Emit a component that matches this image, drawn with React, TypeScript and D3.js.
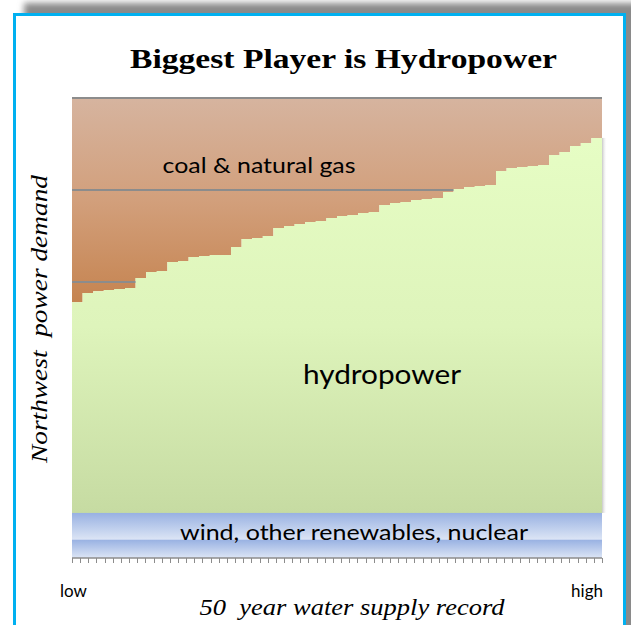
import React from 'react';
import * as d3 from 'd3';

// hydro generation per water year, sorted low -> high (aMW)
const hydro = [
  11450, 11950, 12050, 12120, 12170, 12220, 12770, 13090, 13150, 13640,
  13690, 13910, 13960, 14020, 14020, 14450, 14890, 14940, 15050, 15490,
  15590, 15700, 15810, 15870, 16030, 16140, 16190, 16300, 16350, 16740,
  16840, 16900, 17010, 17060, 17120, 17440, 17600, 17710, 17770, 17820,
  18580, 18750, 18800, 18850, 18910, 19450, 19620, 19940, 20100, 20380,
];
const nuclear = 1000;
const windOther = 1450;
const demand = 25000;
const gridValues = [5000, 10000, 15000, 20000, 25000];
const tickCount = 65;

const W = 631;
const H = 625;
const left = 72, right = 602, top = 98, bottom = 558;

const App: React.FC = () => {
  const x = d3.scaleLinear().domain([0, hydro.length]).range([left, right]);
  const y = d3.scaleLinear().domain([0, demand]).range([bottom, top]);
  const xt = d3.scaleLinear().domain([0, tickCount]).range([left, right]);

  const base = nuclear + windOther;
  const pts = hydro.map((v, i) => ({ i, v }));
  pts.push({ i: hydro.length, v: hydro[hydro.length - 1] });

  const hydroArea = d3.area<{ i: number; v: number }>()
    .x(d => x(d.i))
    .y0(y(base))
    .y1(d => y(base + d.v))
    .curve(d3.curveStepAfter);

  const coalArea = d3.area<{ i: number; v: number }>()
    .x(d => x(d.i))
    .y0(d => y(base + d.v))
    .y1(y(demand))
    .curve(d3.curveStepAfter);

  const bands = [
    { lo: nuclear, hi: base },
    { lo: 0, hi: nuclear },
  ];

  const calibri = "Lato, 'Open Sans', sans-serif";
  const serif = "'Liberation Serif', 'DejaVu Serif', serif";

  return (
    <svg width={W} height={H} style={{ position: 'absolute', left: 0, top: 0 }}>
      <defs>
        <filter id="shadow" x="-10%" y="-10%" width="120%" height="120%">
          <feGaussianBlur stdDeviation="3" />
        </filter>
        <linearGradient id="coalG" gradientUnits="userSpaceOnUse" x1="0" y1={top} x2="0" y2={305}>
          <stop offset="0" stopColor="#d6b49f" />
          <stop offset="0.5" stopColor="#d29f7b" />
          <stop offset="1" stopColor="#c5834f" />
        </linearGradient>
        <linearGradient id="hydroG" gradientUnits="userSpaceOnUse" x1="0" y1={140} x2="0" y2={y(base)}>
          <stop offset="0" stopColor="#e6fdc4" />
          <stop offset="0.5" stopColor="#def4bb" />
          <stop offset="1" stopColor="#c6dba2" />
        </linearGradient>
        <linearGradient id="blueG" x1="0" y1="0" x2="0" y2="1">
          <stop offset="0" stopColor="#98b1e2" />
          <stop offset="1" stopColor="#dce5f5" />
        </linearGradient>
        <linearGradient id="edgeG" x1="0" y1="0" x2="1" y2="0">
          <stop offset="0" stopColor="#b8b8b8" stopOpacity="0.8" />
          <stop offset="1" stopColor="#ffffff" stopOpacity="0" />
        </linearGradient>
      </defs>

      {/* frame with drop shadow */}
      <rect x={24} y={3} width={640} height={680} fill="#8a8a8a" filter="url(#shadow)" />
      <rect x={14.5} y={14.5} width={610} height={660} fill="#fff" stroke="#00b0f0" strokeWidth={3} />

      <text x={343.5} y={68} textAnchor="middle" fontFamily={serif} fontWeight="bold"
        fontSize={28} textLength={427} lengthAdjust="spacingAndGlyphs">Biggest Player is Hydropower</text>

      <path d={coalArea(pts) ?? ''} fill="url(#coalG)" />
      {gridValues.map(g => (
        <line key={g} x1={left} x2={right} y1={y(g)} y2={y(g)} stroke="#8c8c8c" strokeWidth={1.8} />
      ))}
      <rect x={right} y={y(base + hydro[hydro.length - 1])} width={5} height={y(base) - y(base + hydro[hydro.length - 1])} fill="url(#edgeG)" />
      <path d={hydroArea(pts) ?? ''} fill="url(#hydroG)" />

      {bands.map((b, k) => (
        <rect key={k} x={left} width={right - left} y={y(b.hi)} height={y(b.lo) - y(b.hi)} fill="url(#blueG)" />
      ))}

      <line x1={left} x2={right} y1={bottom} y2={bottom} stroke="#8c8c8c" strokeWidth={1.5} />
      {d3.range(tickCount + 1).map(t => (
        <line key={t} x1={Math.round(xt(t)) + 0.5} x2={Math.round(xt(t)) + 0.5} y1={bottom} y2={bottom + 5} stroke="#8c8c8c" strokeWidth={1} />
      ))}

      <text x={259} y={173} textAnchor="middle" fontFamily={calibri} fontSize={22}
        textLength={193} lengthAdjust="spacingAndGlyphs">coal &amp; natural gas</text>
      <text x={382} y={384} textAnchor="middle" fontFamily={calibri} fontSize={27}
        textLength={158} lengthAdjust="spacingAndGlyphs">hydropower</text>
      <text x={354} y={540} textAnchor="middle" fontFamily={calibri} fontSize={22}
        textLength={348} lengthAdjust="spacingAndGlyphs">wind, other renewables, nuclear</text>

      <text x={60} y={597} fontFamily={calibri} fontSize={17}>low</text>
      <text x={603} y={597} textAnchor="end" fontFamily={calibri} fontSize={17}>high</text>

      <text x={352} y={615} textAnchor="middle" fontFamily={serif} fontStyle="italic" fontSize={24}
        textLength={305} lengthAdjust="spacingAndGlyphs" style={{ whiteSpace: 'pre' }}>50  year water supply record</text>
      <text transform="translate(47,319) rotate(-90)" textAnchor="middle" fontFamily={serif} fontStyle="italic"
        fontSize={24} textLength={288} lengthAdjust="spacingAndGlyphs" style={{ whiteSpace: 'pre' }}>Northwest  power demand</text>
    </svg>
  );
};

export default App;
